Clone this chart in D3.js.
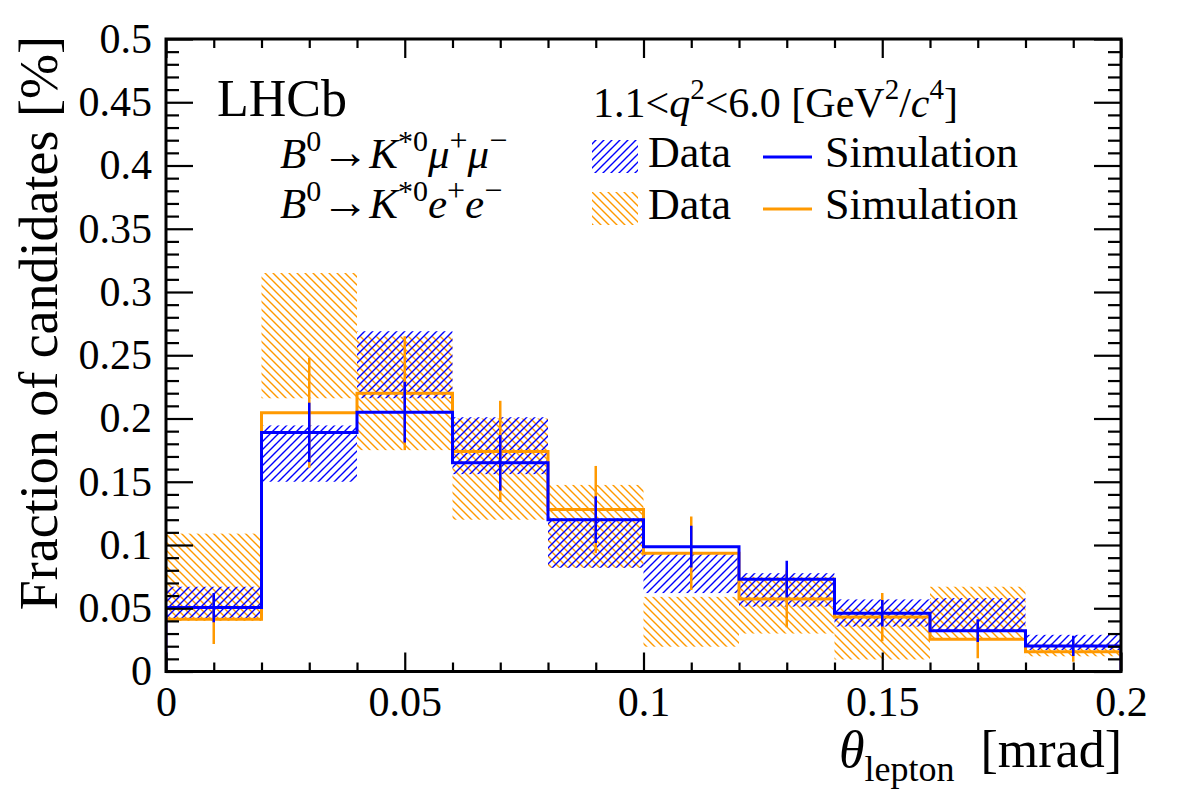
<!DOCTYPE html>
<html>
<head>
<meta charset="utf-8">
<script src="https://cdn.jsdelivr.net/npm/d3@7/dist/d3.min.js"></script>
<style>
  body { margin: 0; background: #fff; }
  svg text { font-family: "Liberation Serif", "Times New Roman", serif !important; fill: #000; }
</style>
</head>
<body>
<script>
// ---------------- data ----------------
const binEdges = [0, 0.02, 0.04, 0.06, 0.08, 0.10, 0.12, 0.14, 0.16, 0.18, 0.20];

// B0 -> K*0 mu+ mu-  (blue)
const muSim    = [0.0505, 0.189, 0.205, 0.165, 0.120, 0.0987, 0.073, 0.046, 0.0323, 0.0202];
const muSimErr = [0.0115, 0.0235, 0.024, 0.022, 0.0185, 0.0165, 0.0145, 0.0105, 0.009, 0.008];
const muDataLo = [0.042, 0.150, 0.216, 0.156, 0.082, 0.062, 0.0513, 0.0355, 0.0325, 0.017];
const muDataHi = [0.067, 0.1945, 0.269, 0.201, 0.121, 0.093, 0.0777, 0.057, 0.058, 0.029];

// B0 -> K*0 e+ e-  (orange)
const eeSim    = [0.0413, 0.2045, 0.220, 0.174, 0.128, 0.0935, 0.0574, 0.043, 0.0255, 0.0157];
const eeSimErr = [0.0195, 0.0435, 0.045, 0.040, 0.0345, 0.029, 0.0225, 0.019, 0.015, 0.008];
const eeDataLo = [0.040, 0.216, 0.175, 0.120, 0.082, 0.0196, 0.030, 0.0095, 0.025, 0.012];
const eeDataHi = [0.109, 0.315, 0.265, 0.200, 0.1475, 0.059, 0.075, 0.050, 0.067, 0.022];

const xTickValues = [0, 0.05, 0.1, 0.15, 0.2];
const xTickLabels = ["0", "0.05", "0.1", "0.15", "0.2"];
const yTickValues = [0, 0.05, 0.1, 0.15, 0.2, 0.25, 0.3, 0.35, 0.4, 0.45, 0.5];
const yTickLabels = ["0", "0.05", "0.1", "0.15", "0.2", "0.25", "0.3", "0.35", "0.4", "0.45", "0.5"];

// ---------------- setup ----------------
const W = 1182, H = 800;
const L = 166, R = 1121, T = 39, B = 671.5;
const BLUE = "#0000ff", ORANGE = "#ff9900";
const SERIF = "'Liberation Serif', 'Times New Roman', serif";

const svg = d3.select("body").append("svg").attr("width", W).attr("height", H)
  .attr("font-family", SERIF);
const x = d3.scaleLinear().domain([0, 0.2]).range([L, R]);
const y = d3.scaleLinear().domain([0, 0.5]).range([B, T]);

const defs = svg.append("defs");
defs.append("clipPath").attr("id", "clip")
  .append("rect").attr("x", L).attr("y", T).attr("width", R - L).attr("height", B - T);

const hb = defs.append("pattern").attr("id", "hatchBlue").attr("patternUnits", "userSpaceOnUse")
  .attr("width", 8).attr("height", 8);
hb.append("path").attr("d", "M-2,2 L2,-2 M0,8 L8,0 M6,10 L10,6")
  .attr("stroke", BLUE).attr("stroke-width", 1.4);
const ho = defs.append("pattern").attr("id", "hatchOrange").attr("patternUnits", "userSpaceOnUse")
  .attr("width", 8).attr("height", 8);
ho.append("path").attr("d", "M-2,6 L2,10 M0,0 L8,8 M6,-2 L10,2")
  .attr("stroke", ORANGE).attr("stroke-width", 1.4);

const plot = svg.append("g").attr("clip-path", "url(#clip)");

function bins(lo, hi) {
  return lo.map((v, i) => ({ x0: binEdges[i], x1: binEdges[i + 1], lo: v, hi: hi[i] }));
}
function drawBand(lo, hi, fill) {
  plot.append("g").selectAll("rect").data(bins(lo, hi)).join("rect")
    .attr("x", d => x(d.x0)).attr("width", d => x(d.x1) - x(d.x0))
    .attr("y", d => y(d.hi)).attr("height", d => y(d.lo) - y(d.hi))
    .attr("fill", fill);
}
function drawHist(vals, errs, color) {
  const pts = [[binEdges[0], 0]];
  vals.forEach((v, i) => { pts.push([binEdges[i], v]); pts.push([binEdges[i + 1], v]); });
  pts.push([binEdges[binEdges.length - 1], 0]);
  const line = d3.line().x(d => x(d[0])).y(d => y(d[1]));
  plot.append("path").attr("d", line(pts)).attr("fill", "none")
    .attr("stroke", color).attr("stroke-width", 3);
  plot.append("g").selectAll("line").data(vals).join("line")
    .attr("x1", (d, i) => x((binEdges[i] + binEdges[i + 1]) / 2))
    .attr("x2", (d, i) => x((binEdges[i] + binEdges[i + 1]) / 2))
    .attr("y1", (d, i) => y(d - errs[i])).attr("y2", (d, i) => y(d + errs[i]))
    .attr("stroke", color).attr("stroke-width", 2.5);
}

drawBand(eeDataLo, eeDataHi, "url(#hatchOrange)");
drawBand(muDataLo, muDataHi, "url(#hatchBlue)");
drawHist(eeSim, eeSimErr, ORANGE);
drawHist(muSim, muSimErr, BLUE);

// ---------------- axes ----------------
const xMinor = d3.range(0, 21).map(i => i * 0.01).filter(v => Math.round(v * 100) % 5 !== 0);
const yMinor = d3.range(0, 51).map(i => i * 0.01).filter(v => Math.round(v * 100) % 5 !== 0);

function styleAxis(g) {
  g.attr("font-family", SERIF);
  g.select(".domain").remove();
  g.selectAll(".tick line").attr("stroke", "#000").attr("stroke-width", 2.2);
  g.selectAll("text").attr("font-size", 42).style("font-family", SERIF);
}

svg.append("g").attr("transform", `translate(0,${B})`)
  .call(d3.axisBottom(x).tickValues(xTickValues).tickFormat((d, i) => xTickLabels[i])
    .tickSizeInner(-19).tickSizeOuter(0).tickPadding(15)).call(styleAxis);
svg.append("g").attr("transform", `translate(0,${B})`)
  .call(d3.axisBottom(x).tickValues(xMinor).tickFormat("").tickSizeInner(-9).tickSizeOuter(0)).call(styleAxis);
svg.append("g").attr("transform", `translate(0,${T})`)
  .call(d3.axisTop(x).tickValues(xTickValues).tickFormat("").tickSizeInner(-19).tickSizeOuter(0)).call(styleAxis);
svg.append("g").attr("transform", `translate(0,${T})`)
  .call(d3.axisTop(x).tickValues(xMinor).tickFormat("").tickSizeInner(-9).tickSizeOuter(0)).call(styleAxis);

svg.append("g").attr("transform", `translate(${L},0)`)
  .call(d3.axisLeft(y).tickValues(yTickValues).tickFormat((d, i) => yTickLabels[i])
    .tickSizeInner(-27).tickSizeOuter(0).tickPadding(14)).call(styleAxis);
svg.append("g").attr("transform", `translate(${L},0)`)
  .call(d3.axisLeft(y).tickValues(yMinor).tickFormat("").tickSizeInner(-13).tickSizeOuter(0)).call(styleAxis);
svg.append("g").attr("transform", `translate(${R},0)`)
  .call(d3.axisRight(y).tickValues(yTickValues).tickFormat("").tickSizeInner(-27).tickSizeOuter(0)).call(styleAxis);
svg.append("g").attr("transform", `translate(${R},0)`)
  .call(d3.axisRight(y).tickValues(yMinor).tickFormat("").tickSizeInner(-13).tickSizeOuter(0)).call(styleAxis);

svg.append("rect").attr("x", L).attr("y", T).attr("width", R - L).attr("height", B - T)
  .attr("fill", "none").attr("stroke", "#000").attr("stroke-width", 3);

// ---------------- titles ----------------
svg.append("text").attr("transform", `translate(57,36) rotate(-90)`)
  .attr("text-anchor", "end").attr("font-size", 54).style("font-family", SERIF)
  .text("Fraction of candidates [%]");

const xt = svg.append("text").attr("x", 1122).attr("y", 767).attr("text-anchor", "end")
  .attr("font-size", 52).style("font-family", SERIF);
xt.append("tspan").attr("font-style", "italic").text("θ");
xt.append("tspan").attr("font-size", 36).attr("dy", 14).text("lepton");
xt.append("tspan").attr("dy", -14).text("\u00a0\u00a0[mrad]");

// ---------------- labels ----------------
svg.append("text").attr("x", 217).attr("y", 116).attr("font-size", 52).style("font-family", SERIF).text("LHCb");

function decay(yb, lep, sign1, sign2) {
  const t = svg.append("text").attr("x", 280).attr("y", yb).attr("font-size", 43).style("font-family", SERIF);
  t.append("tspan").attr("font-style", "italic").text("B");
  t.append("tspan").attr("font-size", 30).attr("dy", -17).text("0");
  t.append("tspan").attr("dy", 17).attr("font-size", 48).text("\u2192");
  t.append("tspan").attr("font-style", "italic").text("K");
  t.append("tspan").attr("font-size", 30).attr("dy", -17).text("*0");
  t.append("tspan").attr("dy", 17).attr("font-style", "italic").text(lep);
  t.append("tspan").attr("font-size", 32).attr("dy", -17).text(sign1);
  t.append("tspan").attr("dy", 17).attr("font-style", "italic").text(lep);
  t.append("tspan").attr("font-size", 32).attr("dy", -17).text(sign2);
}
decay(168, "μ", "+", "\u2212");
decay(218, "e", "+", "\u2212");

// header
const hd = svg.append("text").attr("x", 593).attr("y", 117).attr("font-size", 42).style("font-family", SERIF);
hd.append("tspan").text("1.1<");
hd.append("tspan").attr("font-style", "italic").text("q");
hd.append("tspan").attr("font-size", 29).attr("dy", -18).text("2");
hd.append("tspan").attr("dy", 18).text("<6.0 [GeV");
hd.append("tspan").attr("font-size", 29).attr("dy", -18).text("2");
hd.append("tspan").attr("dy", 18).text("/");
hd.append("tspan").attr("font-style", "italic").text("c");
hd.append("tspan").attr("font-size", 29).attr("dy", -18).text("4");
hd.append("tspan").attr("dy", 18).text("]");

// legend
const legendRows = [
  { fill: "url(#hatchBlue)", color: BLUE, y: 140 },
  { fill: "url(#hatchOrange)", color: ORANGE, y: 192 }
];
legendRows.forEach(r => {
  svg.append("rect").attr("x", 592).attr("y", r.y).attr("width", 46).attr("height", 33).attr("fill", r.fill);
  svg.append("text").attr("x", 648).attr("y", r.y + 27).attr("font-size", 44).style("font-family", SERIF).text("Data");
  svg.append("line").attr("x1", 763).attr("x2", 812).attr("y1", r.y + 17).attr("y2", r.y + 17)
    .attr("stroke", r.color).attr("stroke-width", 3);
  svg.append("text").attr("x", 825).attr("y", r.y + 27).attr("font-size", 44).style("font-family", SERIF).text("Simulation");
});
</script>
</body>
</html>
